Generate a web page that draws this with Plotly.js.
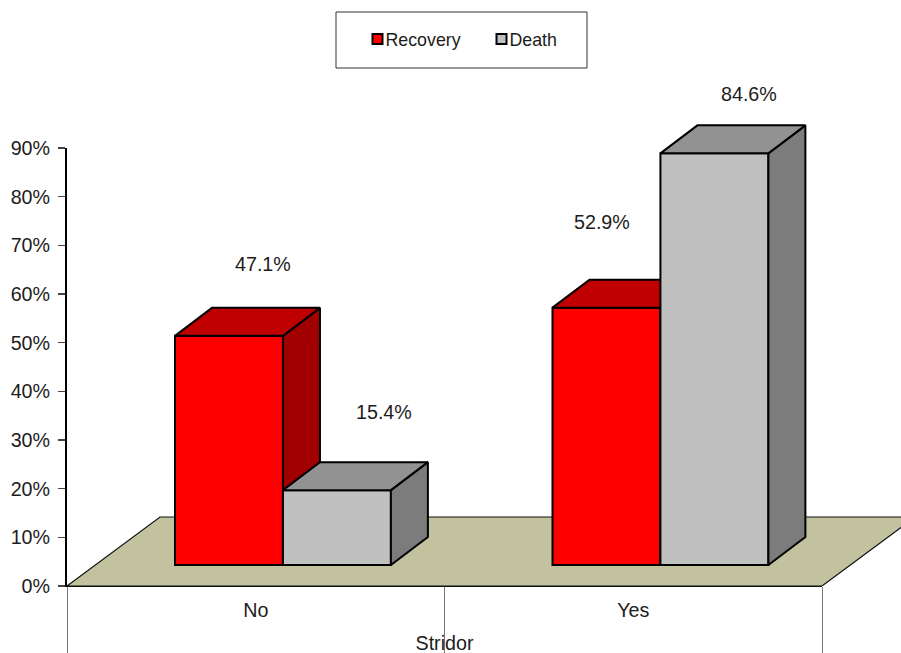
<!DOCTYPE html>
<html>
<head>
<meta charset="utf-8">
<script src="https://cdn.plot.ly/plotly-3.0.1.min.js"></script>
<style>html,body{margin:0;padding:0;background:#fff;overflow:hidden}</style>
</head>
<body>
<div id="chart" style="width:901px;height:653px"></div>
<script>
// Stridor outcome percentages
const categories = ['No', 'Yes'];
const recovery = [47.1, 52.9];
const death = [15.4, 84.6];
const yTicks = [0, 10, 20, 30, 40, 50, 60, 70, 80, 90];

// Pseudo-3D geometry in axis units
const slotCentres = categories.map((_, i) => i + 0.5);
const barWidth = 0.286;
const recoveryOffset = -0.2139;
const deathOffset = 0.072;
const barBase = 4.3;
const depthX = 0.098;
const depthY = 5.75;
const floorDepthX = 0.2464;
const floorDepthY = 14.18;

const FONT = 'Liberation Sans, Arial, sans-serif';
const INK = '#1c1c1c';
const TEXT_SIZE = 19.7;

// The drawn axes cover only part of the plot area. The faces that stick out
// past them live on transparent subplots spanning all of it, at the same scale.
const AREA_W = 834, AREA_H = 586, AXIS_W = 755, AXIS_H = 438;
const X_RANGE = [0, 2];
const Y_RANGE = [0, 90];
const FULL_X = [0, X_RANGE[1] * AREA_W / AXIS_W];
const FULL_Y = [0, Y_RANGE[1] * AREA_H / AXIS_H];

// Builds one polygon per bar, separated by gaps, for the top or side face
function facePolys(values, offset, face) {
  const xs = [], ys = [];
  values.forEach((v, i) => {
    const l = slotCentres[i] + offset, r = l + barWidth, t = barBase + v;
    const pts = face === 'top'
      ? [[l, t], [l + depthX, t + depthY], [r + depthX, t + depthY], [r, t], [l, t]]
      : [[r, t], [r + depthX, t + depthY], [r + depthX, barBase + depthY], [r, barBase], [r, t]];
    pts.forEach(p => { xs.push(p[0]); ys.push(p[1]); });
    xs.push(null); ys.push(null);
  });
  return {x: xs, y: ys};
}

function faceTrace(values, offset, face, colour, xa, ya) {
  return Object.assign(facePolys(values, offset, face), {
    type: 'scatter', mode: 'lines', fill: 'toself', fillcolor: colour,
    line: {color: '#000', width: 2}, showlegend: false,
    hoverinfo: 'skip', xaxis: xa, yaxis: ya
  });
}

function barTrace(name, values, offset, colour, xa, ya) {
  return {
    type: 'bar', name: name, x: slotCentres, y: values, base: barBase,
    width: barWidth, offset: offset, xaxis: xa, yaxis: ya,
    marker: {color: colour, line: {color: '#000', width: 2}}
  };
}

const traces = [
  // Markless trace that keeps the visible axes on the page
  {type: 'scatter', mode: 'none', x: slotCentres, y: [0, 0], showlegend: false, hoverinfo: 'skip'},
  // Floor of the chart box
  {
    type: 'scatter', mode: 'lines', fill: 'toself', fillcolor: '#C2C29E',
    x: [0, floorDepthX, 2 + floorDepthX, 2, 0],
    y: [0, floorDepthY, floorDepthY, 0, 0],
    line: {color: '#111', width: 1.2},
    showlegend: false, hoverinfo: 'skip', xaxis: 'x2', yaxis: 'y2'
  },
  barTrace('Recovery', recovery, recoveryOffset, '#FF0000', 'x3', 'y3'),
  faceTrace(recovery, recoveryOffset, 'side', '#A00000', 'x3', 'y3'),
  faceTrace(recovery, recoveryOffset, 'top', '#C00000', 'x3', 'y3'),
  barTrace('Death', death, deathOffset, '#C0C0C0', 'x4', 'y4'),
  faceTrace(death, deathOffset, 'side', '#7C7C7C', 'x4', 'y4'),
  faceTrace(death, deathOffset, 'top', '#929292', 'x4', 'y4')
];

// Value labels float above each bar, each with its own hand placement
function valueLabel(v, offset, i, dx, dy) {
  return {
    x: slotCentres[i] + offset + barWidth / 2, y: barBase + v,
    xref: 'x3', yref: 'y3', text: v.toFixed(1) + '%', showarrow: false,
    xshift: dx, yshift: dy, font: {family: FONT, size: TEXT_SIZE, color: INK}
  };
}

const fullX = anchor => ({domain: [0, 1], anchor: anchor, range: FULL_X, visible: false, fixedrange: true});
const fullY = anchor => ({domain: [0, 1], anchor: anchor, range: FULL_Y, visible: false, fixedrange: true});

const layout = {
  width: 901, height: 653,
  margin: {l: 67, r: 0, t: 0, b: 67, pad: 0},
  paper_bgcolor: '#fff', plot_bgcolor: 'rgba(0,0,0,0)',
  font: {family: FONT, size: TEXT_SIZE, color: INK},
  showlegend: true,
  legend: {
    orientation: 'h', x: (469.5 - 67) / AREA_W, y: (AREA_H - 39.5) / AREA_H,
    xanchor: 'center', yanchor: 'middle',
    bgcolor: 'rgba(0,0,0,0)', borderwidth: 0,
    font: {family: FONT, size: 17.8, color: INK},
    traceorder: 'normal', entrywidth: 79, entrywidthmode: 'pixels'
  },
  xaxis: {
    domain: [0, AXIS_W / AREA_W], anchor: 'y',
    range: X_RANGE, tickvals: slotCentres, ticktext: categories, ticks: '',
    showgrid: false, zeroline: false, showline: true, linecolor: '#111', linewidth: 1,
    ticklabelstandoff: 6, fixedrange: true,
    minor: {tickvals: [0, 1, 2], ticks: 'outside', ticklen: 67, tickcolor: '#777', tickwidth: 1, showgrid: false},
    title: {text: 'Stridor', font: {family: FONT, size: TEXT_SIZE, color: INK}}
  },
  yaxis: {
    domain: [0, AXIS_H / AREA_H], anchor: 'x',
    range: Y_RANGE, tickvals: yTicks, ticktext: yTicks.map(t => t + '%'),
    ticks: 'outside', ticklen: 7, tickcolor: '#444', tickwidth: 1.5,
    ticklabelstandoff: 4,
    showgrid: false, zeroline: false,
    showline: true, linecolor: '#000', linewidth: 2, fixedrange: true
  },
  xaxis2: fullX('y2'), yaxis2: fullY('x2'),
  xaxis3: fullX('y3'), yaxis3: fullY('x3'),
  xaxis4: fullX('y4'), yaxis4: fullY('x4'),
  bargap: 0,
  shapes: [{
    type: 'rect', xref: 'paper', yref: 'paper', layer: 'above',
    x0: (336 - 67) / AREA_W, x1: (587 - 67) / AREA_W,
    y0: (AREA_H - 68) / AREA_H, y1: (AREA_H - 12) / AREA_H,
    line: {color: '#333', width: 1}, fillcolor: 'rgba(0,0,0,0)'
  }],
  annotations: [
    valueLabel(recovery[0], recoveryOffset, 0, 34, 72),
    valueLabel(death[0], deathOffset, 0, 47, 78),
    valueLabel(recovery[1], recoveryOffset, 1, -4, 86),
    valueLabel(death[1], deathOffset, 1, 35, 59)
  ]
};

Plotly.newPlot('chart', traces, layout, {displayModeBar: false, staticPlot: true}).then(gd => {
  // Tighter, smaller legend swatches sitting close to their labels
  gd.querySelectorAll('.legend .legendsymbols').forEach(g => {
    g.setAttribute('transform', 'translate(12,0)');
  });
  gd.querySelectorAll('.legend .legendpoints path').forEach(p => {
    p.setAttribute('d', 'M5,5H-5V-5H5Z');
  });
  // Drop the axis title a little lower under the category dividers
  const xTitle = gd.querySelector('.xtitle');
  if (xTitle) xTitle.setAttribute('transform', 'translate(0,1.5)');
});
</script>
</body>
</html>
